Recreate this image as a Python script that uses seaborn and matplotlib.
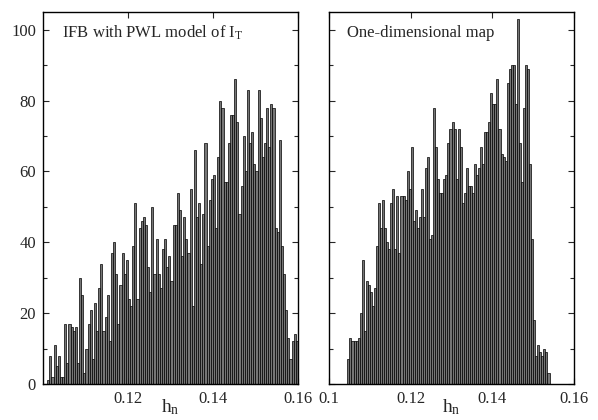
import numpy as np
import pandas as pd
import matplotlib
matplotlib.use("Agg")
import matplotlib.pyplot as plt
import seaborn as sns
from matplotlib.ticker import MultipleLocator

# histogram counts, 120 bins of width 0.0005 between 0.1 and 0.16
bin_lo, bin_hi, n_bins = 0.1, 0.16, 120

ifb_counts = [0, 0, 1, 8, 2, 11, 5, 8, 2, 2,
              17, 6, 17, 16, 15, 16, 6, 30, 25, 3,
              10, 17, 21, 7, 23, 15, 27, 34, 15, 19,
              25, 12, 37, 40, 31, 17, 28, 37, 31, 35,
              24, 22, 39, 51, 24, 44, 46, 47, 45, 33,
              26, 50, 31, 41, 31, 27, 38, 41, 33, 36,
              29, 45, 45, 54, 49, 36, 47, 41, 37, 55,
              22, 66, 47, 51, 34, 48, 68, 39, 52, 58,
              59, 44, 64, 80, 78, 57, 57, 68, 76, 76,
              86, 74, 48, 56, 70, 60, 83, 68, 71, 62,
              60, 83, 75, 64, 68, 78, 67, 79, 78, 44,
              43, 69, 39, 31, 21, 13, 7, 12, 14, 12]

map_counts = [0, 0, 0, 0, 0, 0, 0, 0, 0,
              7, 13, 12, 12, 12, 13, 20, 35, 15, 29, 28, 26, 22, 27, 39, 51,
              44, 52, 44, 40, 38, 51, 55, 38, 53,
              37, 53, 53, 52, 60, 55, 67, 46, 49, 44, 47, 55, 47, 61, 64, 41,
              42, 78, 67, 58, 54, 54, 58, 59, 68, 72, 74,
              72, 58, 72, 67, 51, 54, 61, 56, 56, 54, 62, 59, 61, 67, 62, 71,
              71, 74, 82, 79, 79, 86, 72, 65, 64, 63, 85,
              89, 90, 90, 79, 103, 68, 57, 78, 90, 89, 62, 41, 18, 8, 11, 9,
              8, 10, 9, 3,
              0, 0, 0, 0, 0, 0, 0, 0, 0, 0, 0, 0]

panel_texts = [r"IFB with PWL model of $\mathregular{I_T}$", "One-dimensional map"]
left_xticks = [0.12, 0.14, 0.16]
right_xticks = [0.1, 0.12, 0.14, 0.16]
yticks = [0, 20, 40, 60, 80, 100]

sns.set_style("ticks")
plt.rcParams["font.family"] = ["Liberation Serif", "DejaVu Serif"]
plt.rcParams["mathtext.fontset"] = "stix"

edges = np.linspace(bin_lo, bin_hi, n_bins + 1)
centers = (edges[:-1] + edges[1:]) / 2

fig = plt.figure(figsize=(5.98, 4.2), dpi=100)
ax1 = fig.add_axes([0.0719, 0.0857, 0.4264, 0.8857])
ax2 = fig.add_axes([0.5502, 0.0857, 0.4097, 0.8857])

for ax, counts, txt in [(ax1, ifb_counts, panel_texts[0]), (ax2, map_counts, panel_texts[1])]:
    df = pd.DataFrame({"h": centers, "n": counts})
    sns.histplot(data=df, x="h", weights="n", bins=list(edges), ax=ax,
                 color="#767676", edgecolor="black", linewidth=0.5, alpha=1)
    ax.set_xlim(bin_lo, bin_hi)
    ax.set_ylim(0, 105)
    ax.set_ylabel("")
    ax.yaxis.set_minor_locator(MultipleLocator(10))
    ax.tick_params(which="both", direction="in", top=True, right=True,
                   labelsize=12, width=0.8, pad=5)
    ax.tick_params(which="major", length=4)
    ax.tick_params(which="minor", length=3)
    for sp in ax.spines.values():
        sp.set_linewidth(1.0)
        sp.set_color("black")
    ax.text(0.075, 0.932, txt, transform=ax.transAxes, fontsize=12)
    ax.set_xlabel(r"$\mathregular{h_n}$", fontsize=14)
    ax.xaxis.set_label_coords(0.5, -0.035)

ax1.set_xticks(left_xticks)
ax1.set_xticklabels([f"{t:g}" for t in left_xticks])
ax1.set_yticks(yticks)
ax1.set_yticklabels([str(t) for t in yticks])

ax2.set_xticks(right_xticks)
ax2.set_xticklabels([f"{t:g}" for t in right_xticks])
ax2.set_yticks(yticks)
ax2.set_yticklabels([])

fig.savefig("out.png", dpi=100)
